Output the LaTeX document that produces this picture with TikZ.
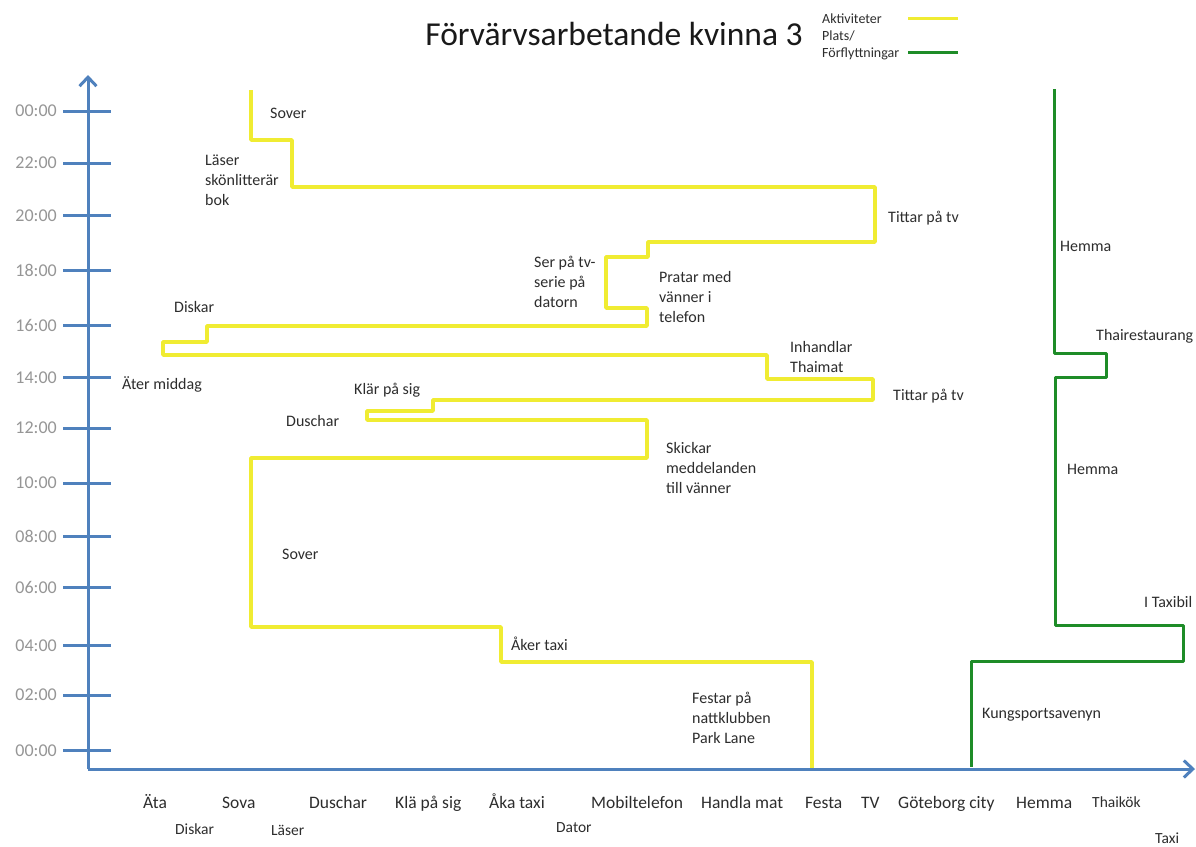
\documentclass[tikz,border=0pt]{standalone}
\usepackage{fontspec}
\setmainfont{Carlito}
\usetikzlibrary{arrows.meta}
\definecolor{axisblue}{RGB}{79,129,189}
\definecolor{actyellow}{RGB}{240,236,50}
\definecolor{placegreen}{RGB}{30,140,40}
\definecolor{labelgray}{RGB}{45,45,45}
\definecolor{timegray}{RGB}{150,150,150}
\begin{document}
\begin{tikzpicture}[x=1pt,y=-1pt,
  axisline/.style={draw=axisblue, line width=3pt},
  tickline/.style={draw=axisblue, line width=3pt},
  actline/.style={draw=actyellow, line width=3.8pt, line join=round},
  placeline/.style={draw=placegreen, line width=3pt, line join=round},
  lbl/.style={anchor=west, inner sep=0pt, align=left, text=labelgray, font=\fontsize{16}{20}\selectfont},
  lblb/.style={anchor=base west, inner sep=0pt, text=labelgray, font=\fontsize{16}{20}\selectfont},
  tlbl/.style={anchor=east, inner sep=0pt, text=timegray, font=\fontsize{18}{20}\selectfont},
  cat/.style={anchor=base west, inner sep=0pt, text=labelgray, font=\fontsize{17.5}{20}\selectfont},
  cattwo/.style={anchor=base west, inner sep=0pt, text=labelgray, font=\fontsize{15.5}{20}\selectfont},
  leg/.style={anchor=west, inner sep=0pt, align=left, text=labelgray, font=\fontsize{14}{17}\selectfont},
]
\useasboundingbox (0,0) rectangle (1196,846);
\fill[white] (0,0) rectangle (1196,846);

% title and legend
\node[inner sep=0pt, text=black!90, font=\fontsize{33.5}{36}\selectfont] (title) at (614,34) {Förvärvsarbetande kvinna 3};
\node[leg] (legact) at (822,19) {Aktiviteter};
\node[leg] (legplace) at (822,45) {Plats/\\Förflyttningar};
\coordinate (lya) at (908,18); \coordinate (lyb) at (958,18);
\coordinate (lga) at (908,52); \coordinate (lgb) at (958,52);
\draw[actline, line width=3pt] (lya) -- (lyb);
\draw[placeline] (lga) -- (lgb);

% axes
\coordinate (origin) at (88,769);
\coordinate (ytip) at (88,75);
\coordinate (xtip) at (1195,769);
\draw[axisline, -{Straight Barb[length=9pt,width=17pt,line width=3pt]}] (origin) -- (ytip);
\draw[axisline, -{Straight Barb[length=9pt,width=17pt,line width=3pt]}] (origin) -- (xtip);

% ticks and time labels
\foreach \yy/\tl/\nm in {111/00:00/ta,163/22:00/tb,215.7/20:00/tc,270/18:00/td,325.7/16:00/te,377.7/14:00/tf,428/12:00/tg,483/10:00/th,536/08:00/ti,587/06:00/tj,645.7/04:00/tk,695/02:00/tl,750.7/00:00/tm}{
  \draw[tickline] (63,\yy) -- (111,\yy);
  \node[tlbl] (\nm) at (57,\yy) {\tl};
}

% activity path (yellow)
\draw[actline] (251,90) -- (251,140) -- (292,140) -- (292,187) -- (875,187)
  -- (875,242) -- (648,242) -- (648,257) -- (606,257) -- (606,308)
  -- (647,308) -- (647,326) -- (207,326) -- (207,342) -- (163,342)
  -- (163,355) -- (767,355) -- (767,379) -- (873,379) -- (873,400)
  -- (433,400) -- (433,411) -- (367,411) -- (367,420) -- (647,420)
  -- (647,458) -- (251,458) -- (251,627) -- (501,627) -- (501,662)
  -- (812,662) -- (812,768);

% place path (green)
\draw[placeline] (1054,89) -- (1054,353) -- (1106,353) -- (1106,377)
  -- (1055,377) -- (1055,625) -- (1183,625) -- (1183,661) -- (971,661)
  -- (971,767);

% activity labels
\node[lblb] (a1) at (270,118) {Sover};
\node[lbl] (a2) at (205,180) {Läser\\skönlitterär\\bok};
\node[lblb] (a3) at (888,222) {Tittar på tv};
\node[lbl] (a4) at (534,282) {Ser på tv-\\serie på\\datorn};
\node[lbl] (a5) at (659,297) {Pratar med\\vänner i\\telefon};
\node[lblb] (a6) at (174,312) {Diskar};
\node[lbl] (a7) at (790,357) {Inhandlar\\Thaimat};
\node[lblb] (a8) at (122,389) {Äter middag};
\node[lblb] (a9) at (893,400) {Tittar på tv};
\node[lblb] (a10) at (354,394) {Klär på sig};
\node[lblb] (a11) at (286,426) {Duschar};
\node[lbl] (a12) at (666,468) {Skickar\\meddelanden\\till vänner};
\node[lblb] (a13) at (282,559) {Sover};
\node[lblb] (a14) at (511,650) {Åker taxi};
\node[lbl] (a15) at (692,718) {Festar på\\nattklubben\\Park Lane};

% place labels
\node[lblb] (p1) at (1060,251) {Hemma};
\node[lblb] (p2) at (1096,340) {Thairestaurang};
\node[lblb] (p3) at (1067,474) {Hemma};
\node[lblb] (p4) at (1144,607) {I Taxibil};
\node[lblb] (p5) at (982,718) {Kungsportsavenyn};

% category labels
\node[cat] (c1) at (143,808) {Äta};
\node[cat] (c2) at (222,808) {Sova};
\node[cat] (c3) at (309,808) {Duschar};
\node[cat] (c4) at (395,808) {Klä på sig};
\node[cat] (c5) at (489,808) {Åka taxi};
\node[cat] (c6) at (591,808) {Mobiltelefon};
\node[cat] (c7) at (701,808) {Handla mat};
\node[cat] (c8) at (805,808) {Festa};
\node[cat] (c9) at (861,808) {TV};
\node[cat] (c10) at (898,808) {Göteborg city};
\node[cat] (c11) at (1016,808) {Hemma};
\node[cattwo] (c12) at (1092,807) {Thaikök};
\node[cattwo] (c13) at (175,834) {Diskar};
\node[cattwo] (c14) at (271,835) {Läser};
\node[cattwo] (c15) at (556,832) {Dator};
\node[cattwo] (c16) at (1155,843) {Taxi};
\end{tikzpicture}
\end{document}
